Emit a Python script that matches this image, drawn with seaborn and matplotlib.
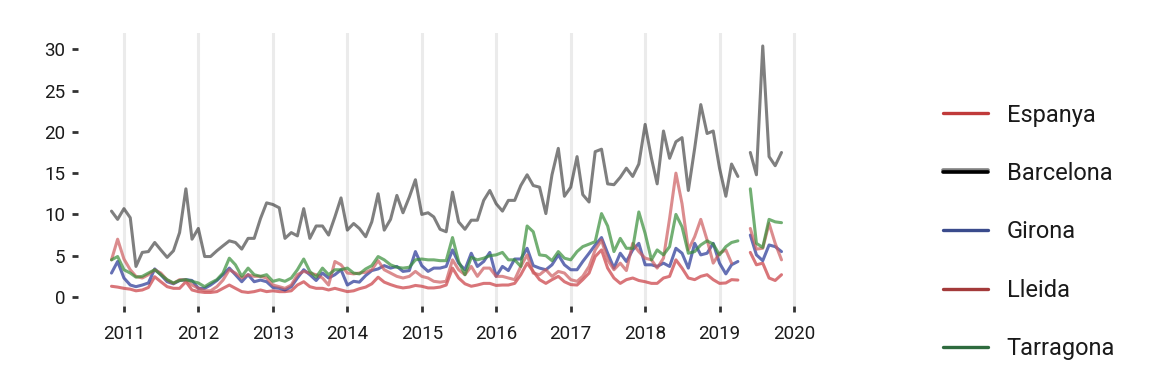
import numpy as np
import pandas as pd
import matplotlib
matplotlib.use('Agg')
import matplotlib.pyplot as plt
import matplotlib.dates as mdates
import matplotlib.patheffects as pe
from matplotlib.lines import Line2D
import seaborn as sns

nan = np.nan

# monthly data, Nov 2010 - Nov 2019 (May 2019 missing)
months = pd.date_range('2010-11-01', '2019-11-01', freq='MS')

barcelona = [10.4, 9.4, 10.7, 9.6, 3.7, 5.4, 5.5, 6.6, 5.7, 4.8, 5.6, 7.8, 13.1, 7.0,
             8.3, 4.9, 4.9, 5.6, 6.2, 6.8, 6.6, 5.8, 7.1, 7.1, 9.5, 11.4,
             11.2, 10.8, 7.1, 7.8, 7.4, 10.7, 7.1, 8.6, 8.6, 7.5, 9.7, 12.0,
             8.1, 8.9, 8.3, 7.3, 9.1, 12.5, 8.1, 9.4, 12.3, 10.2, 12.1, 14.2,
             10.0, 10.2, 9.7, 8.2, 7.9, 12.7, 9.1, 8.2, 9.3, 9.3, 11.7, 12.9,
             11.3, 10.4, 11.7, 11.7, 13.5, 14.8, 13.5, 13.3, 10.1, 14.8, 18.0, 12.2,
             13.3, 17.0, 12.4, 11.5, 17.6, 17.9, 13.7, 13.6, 14.5, 15.6, 14.6, 16.1,
             20.9, 16.8, 13.7, 20.1, 16.8, 18.8, 19.3, 12.9, 18.0, 23.3, 19.8, 20.1,
             15.6, 12.2, 16.1, 14.6, nan, 17.5, 14.8, 30.4, 17.0, 15.9, 17.5]

girona = [2.9, 4.3, 2.3, 1.45, 1.25, 1.45, 1.7, 3.4, 2.7, 1.85, 1.6, 2.0, 2.1, 2.0,
          1.05, 1.05, 1.45, 2.0, 2.7, 3.5, 2.7, 1.85, 2.7, 1.85, 2.05, 1.85,
          1.15, 1.05, 0.85, 1.25, 2.3, 3.3, 2.7, 2.0, 2.9, 2.3, 2.7, 3.3,
          1.45, 1.9, 1.8, 2.6, 3.2, 3.4, 3.8, 3.5, 3.7, 3.1, 3.2, 5.5,
          3.8, 3.1, 3.5, 3.5, 3.7, 5.7, 4.1, 3.3, 5.3, 3.7, 4.3, 5.4,
          2.5, 3.7, 3.2, 4.6, 4.6, 5.9, 3.8, 3.5, 3.3, 3.9, 5.1, 3.9,
          3.3, 3.3, 4.3, 5.3, 6.3, 7.2, 5.3, 3.5, 5.3, 4.3, 5.7, 6.5,
          3.9, 3.9, 3.7, 4.1, 3.7, 5.9, 5.3, 3.5, 6.5, 5.1, 5.3, 6.5,
          4.1, 2.8, 3.9, 4.3, nan, 7.5, 5.1, 4.4, 6.3, 6.1, 5.5]

tarragona = [4.5, 4.9, 3.3, 2.9, 2.4, 2.5, 2.9, 3.3, 2.7, 2.1, 1.7, 2.0, 2.1, 1.9,
             1.7, 1.25, 1.7, 2.1, 2.9, 4.7, 3.9, 2.5, 3.5, 2.7, 2.5, 2.7,
             1.9, 2.1, 1.9, 2.3, 3.3, 4.6, 3.1, 2.4, 3.5, 2.7, 3.3, 3.3,
             3.5, 2.9, 2.8, 3.4, 3.8, 4.9, 4.5, 3.9, 3.6, 3.5, 3.6, 4.5,
             4.6, 4.5, 4.5, 4.4, 4.4, 7.2, 4.3, 2.7, 4.8, 4.5, 4.7, 5.0,
             5.1, 5.4, 4.5, 4.5, 3.7, 8.6, 7.9, 5.1, 5.0, 4.4, 5.5, 4.7,
             4.5, 5.5, 6.1, 6.4, 6.7, 10.1, 8.6, 5.5, 7.1, 5.9, 5.9, 10.3,
             7.7, 4.5, 5.7, 5.1, 6.1, 10.0, 8.5, 5.3, 5.5, 6.3, 6.8, 6.4,
             5.1, 6.1, 6.6, 6.8, nan, 13.1, 6.5, 6.0, 9.4, 9.1, 9.0]

lleida = [4.5, 7.0, 4.6, 3.3, 2.5, 2.3, 2.7, 3.3, 2.9, 2.05, 1.65, 2.1, 2.05, 1.45,
          1.05, 0.75, 0.75, 1.25, 2.05, 3.3, 2.9, 2.3, 2.7, 2.5, 2.5, 2.3,
          1.45, 1.25, 1.05, 1.45, 2.7, 3.1, 2.9, 2.7, 2.3, 1.45, 4.3, 3.9,
          2.9, 2.8, 2.9, 3.0, 3.3, 4.4, 3.3, 2.9, 2.5, 2.3, 2.5, 3.1,
          2.5, 2.3, 1.9, 1.8, 1.9, 4.5, 3.3, 2.7, 3.7, 2.5, 3.5, 3.5,
          2.5, 2.5, 2.3, 2.1, 3.7, 5.1, 2.9, 2.7, 3.3, 2.5, 3.1, 2.9,
          2.1, 1.9, 2.5, 3.7, 5.7, 6.9, 4.5, 3.3, 4.1, 3.2, 6.5, 5.5,
          4.7, 4.5, 3.5, 4.7, 9.5, 15.0, 11.3, 5.7, 7.3, 9.4, 6.9, 4.1,
          5.3, 5.7, 4.1, nan, nan, 8.3, 5.8, 5.9, 8.9, 6.5, 4.5]

espanya = [1.3, 1.2, 1.05, 0.95, 0.75, 0.85, 1.15, 2.45, 1.85, 1.25, 1.05, 1.05, 1.85, 0.85,
           0.65, 0.55, 0.55, 0.65, 1.05, 1.45, 1.05, 0.65, 0.55, 0.65, 0.85, 0.65,
           0.75, 0.65, 0.65, 0.75, 1.45, 1.85, 1.25, 1.05, 1.05, 0.85, 1.05, 0.85,
           0.65, 0.75, 1.0, 1.2, 1.6, 2.4, 1.8, 1.5, 1.25, 1.1, 1.2, 1.4,
           1.3, 1.1, 1.1, 1.2, 1.45, 3.5, 2.3, 1.6, 1.3, 1.45, 1.65, 1.65,
           1.4, 1.45, 1.45, 1.65, 2.7, 4.1, 3.1, 2.1, 1.65, 2.1, 2.5, 1.85,
           1.5, 1.45, 2.1, 2.9, 4.9, 5.7, 3.5, 2.3, 1.65, 2.1, 2.3, 2.0,
           1.85, 1.65, 1.65, 2.3, 2.5, 4.5, 3.5, 2.3, 2.1, 2.5, 2.7, 2.1,
           1.65, 1.7, 2.1, 2.05, nan, 5.4, 3.9, 4.1, 2.3, 2.0, 2.7]

series = ['Espanya', 'Barcelona', 'Girona', 'Lleida', 'Tarragona']
values = [espanya, barcelona, girona, lleida, tarragona]
line_colors = ['#c93b41', '#000000', '#243394', '#cc5c5f', '#368e38']
line_alpha = [0.7, 0.5, 0.7, 0.7, 0.7]
legend_colors = ['#c03a3a', '#000000', '#3a4b8c', '#a33a3a', '#2e6b3e']

# long table; segment id so the lines break at the missing month
frames = []
for name, vals in zip(series, values):
    d = pd.DataFrame({'fecha': months, 'valor': vals, 'serie': name})
    d['tramo'] = (d['fecha'] >= '2019-05-01').astype(int)
    frames.append(d.dropna())
df = pd.concat(frames, ignore_index=True)

sns.set_theme(style='white')
plt.rcParams['font.family'] = ['Roboto', 'DejaVu Sans']

fig = plt.figure(figsize=(11.68, 3.68), dpi=100)
ax = fig.add_axes([78 / 1168, 1 - 306 / 368, (815 - 78) / 1168, (306 - 33) / 368])

for name, c, a in zip(series, line_colors, line_alpha):
    sns.lineplot(data=df[df['serie'] == name], x='fecha', y='valor', units='tramo',
                 estimator=None, color=c, alpha=a, linewidth=2.2, ax=ax, legend=False)

t_min = mdates.date2num(months[0])
t_max = mdates.date2num(months[-1])
span = t_max - t_min
ax.set_xlim(t_min - 0.05 * span, t_max + 0.05 * span)
ax.set_ylim(-1.09, 31.97)
ax.set_yticks([0, 5, 10, 15, 20, 25, 30])
ax.xaxis.set_major_locator(mdates.YearLocator())
ax.xaxis.set_major_formatter(mdates.DateFormatter('%Y'))

ax.set_xlabel('')
ax.set_ylabel('')
for s in ax.spines.values():
    s.set_visible(False)
ax.grid(axis='x', color='#ebebeb', linewidth=2.2)
ax.grid(axis='y', visible=False)
ax.set_axisbelow(True)
ax.tick_params(axis='both', which='major', length=4.5, width=2, color='#333333',
               labelsize=13.5, labelcolor='#1a1a1a', bottom=True, left=True)
ax.tick_params(axis='y', pad=4.5)
ax.tick_params(axis='x', pad=9)

handles = []
for name, c in zip(series, legend_colors):
    h = Line2D([], [], color=c, linewidth=2.4)
    if name == 'Barcelona':
        h.set_linewidth(2.6)
        h.set_path_effects([pe.SimpleLineShadow(offset=(0, 1.2), shadow_color='#808080', alpha=1),
                            pe.Normal()])
    handles.append(h)

fig.legend(handles, series, loc='center left', bbox_to_anchor=(943 / 1168, 1 - 232 / 368),
           frameon=False, fontsize=17, handlelength=1.9, handletextpad=0.8,
           labelspacing=1.5, borderpad=0, borderaxespad=0, labelcolor='#1a1a1a')

fig.savefig('out.png', dpi=100)
